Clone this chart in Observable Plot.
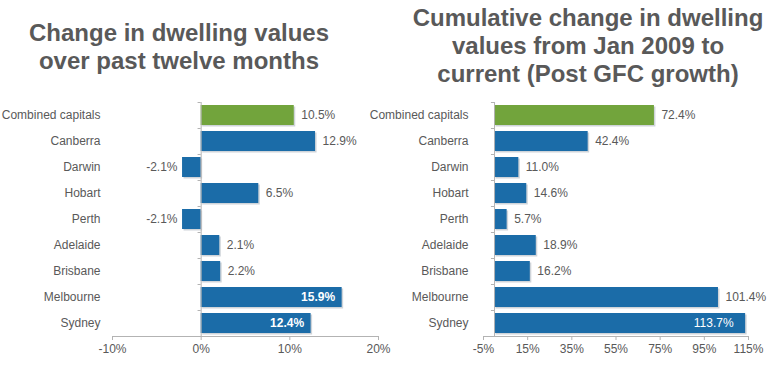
<!DOCTYPE html>
<html>
<head>
<meta charset="utf-8">
<script src="https://cdn.jsdelivr.net/npm/d3@7"></script>
<script src="https://cdn.jsdelivr.net/npm/@observablehq/plot@0.6"></script>
<style>
  html, body { margin: 0; padding: 0; background: #ffffff; }
  body { width: 784px; height: 373px; position: relative; overflow: hidden; font-family: "Liberation Sans", Arial, sans-serif; }
  .title { position: absolute; text-align: center; font-weight: bold; font-size: 24px; line-height: 28px; color: #595959; white-space: nowrap; }
  .chart { position: absolute; top: 90px; }
  .chart svg { overflow: visible; }
</style>
</head>
<body>
<div class="title" id="t1" style="left:0px; top:19px; width:358px;"></div>
<div class="title" id="t2" style="left:388px; top:4px; width:400px;"></div>
<div class="chart" id="c1" style="left:0px;"></div>
<div class="chart" id="c2" style="left:360px;"></div>
<script>
// ---- data ----
const cities = ["Combined capitals", "Canberra", "Darwin", "Hobart", "Perth", "Adelaide", "Brisbane", "Melbourne", "Sydney"];
const change12m = [10.5, 12.9, -2.1, 6.5, -2.1, 2.1, 2.2, 15.9, 12.4];
const cumulativeSince2009 = [72.4, 42.4, 11.0, 14.6, 5.7, 18.9, 16.2, 101.4, 113.7];
const leftTicks = [-10, 0, 10, 20];
const rightTicks = [-5, 15, 35, 55, 75, 95, 115];
const leftDomain = [-10, 20];
const rightDomain = [-5, 115];
const highlightCity = "Combined capitals";
const leftInsideLabels = ["Melbourne", "Sydney"];
const rightInsideLabels = ["Sydney"];
const leftTitle = ["Change in dwelling values", "over past twelve months"];
const rightTitle = ["Cumulative change in dwelling", "values from Jan 2009 to", "current (Post GFC growth)"];

document.getElementById("t1").innerHTML = leftTitle.join("<br>");
document.getElementById("t2").innerHTML = rightTitle.join("<br>");

const BLUE = "#1b6ca8", GREEN = "#72a43c", TEXT = "#595959", AXIS = "#b3b3b3", SHADOW = "#cfd4d9";
const HALF_STEP = 13;

function chart({values, domain, ticks, inside, boldInside, insideDx, width, marginLeft, marginRight, tickPadding, tickLen}) {
  const data = cities.map((c, i) => ({city: c, value: values[i]}));
  const fmt = d => d.value.toFixed(1) + "%";
  return Plot.plot({
    width, height: 280,
    marginLeft, marginRight, marginTop: 12, marginBottom: 34,
    style: {fontFamily: "'Liberation Sans', Arial, sans-serif", fontSize: "12px", color: TEXT, background: "transparent", overflow: "visible"},
    x: {domain, ticks, tickFormat: d => d + "%"},
    y: {domain: cities, paddingInner: 0.23, paddingOuter: 0.115},
    color: {type: "identity"},
    marks: [
      Plot.barX(data, {x: "value", y: "city", fill: SHADOW, dx: 1.5, dy: 1.5}),
      Plot.barX(data, {x: "value", y: "city", fill: d => d.city === highlightCity ? GREEN : BLUE}),
      Plot.ruleX([0], {stroke: AXIS}),
      Plot.ruleY(cities, {y: d => d, x1: 0, x2: -tickLen, dy: -HALF_STEP, stroke: AXIS}),
      Plot.ruleY([cities[cities.length - 1]], {y: d => d, dy: HALF_STEP, stroke: AXIS}),
      Plot.axisX({ticks, tickFormat: d => d + "%", tickSize: 4, tickPadding: 4, stroke: AXIS, fill: TEXT, label: null}),
      Plot.axisY({tickSize: 0, tickPadding, fill: TEXT, label: null}),
      Plot.text(data.filter(d => !inside.includes(d.city) && d.value >= 0), {x: "value", y: "city", text: fmt, textAnchor: "start", dx: 7, fill: TEXT}),
      Plot.text(data.filter(d => !inside.includes(d.city) && d.value < 0), {x: "value", y: "city", text: fmt, textAnchor: "end", dx: -5, fill: TEXT}),
      Plot.text(data.filter(d => inside.includes(d.city)), {x: "value", y: "city", text: fmt, textAnchor: "end", dx: insideDx, fill: "white", fontWeight: boldInside ? "bold" : "normal"})
    ]
  });
}

document.getElementById("c1").append(chart({
  values: change12m, domain: leftDomain, ticks: leftTicks, inside: leftInsideLabels, boldInside: true, insideDx: -7,
  width: 390, marginLeft: 112, marginRight: 12, tickPadding: 12, tickLen: 0.35
}));
document.getElementById("c2").append(chart({
  values: cumulativeSince2009, domain: rightDomain, ticks: rightTicks, inside: rightInsideLabels, boldInside: false, insideDx: -12,
  width: 424, marginLeft: 123, marginRight: 36, tickPadding: 15, tickLen: 1.4
}));
</script>
</body>
</html>
